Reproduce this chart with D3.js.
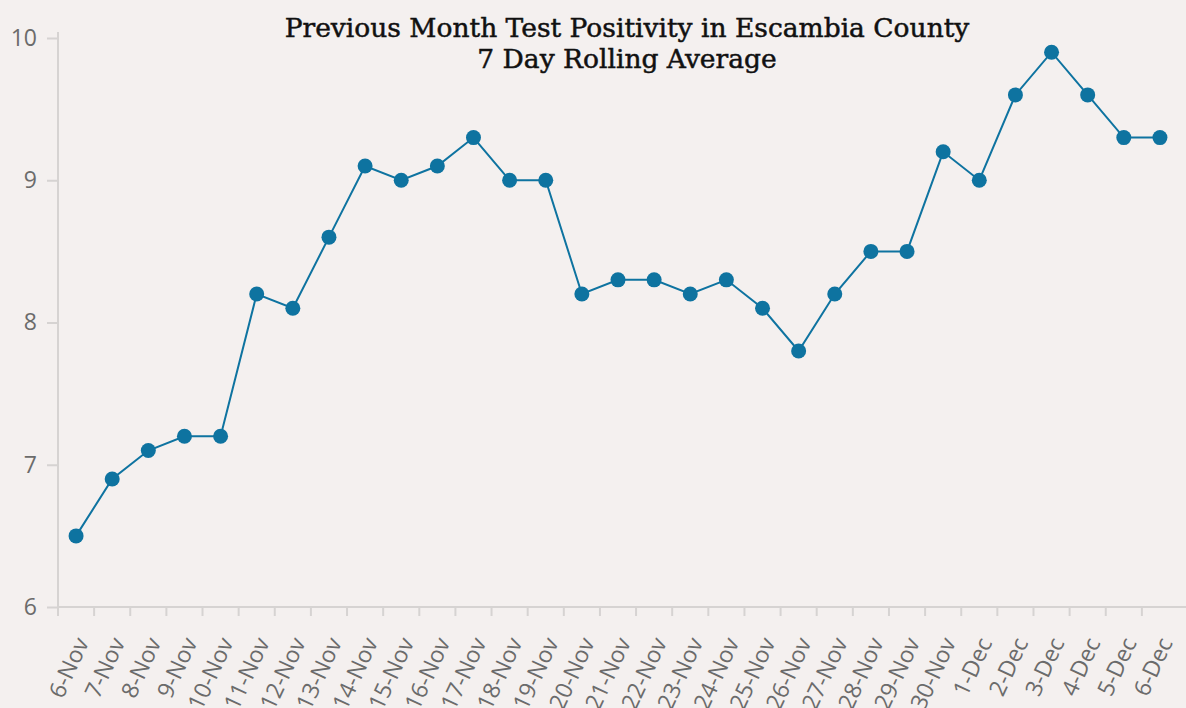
<!DOCTYPE html>
<html>
<head>
<meta charset="utf-8">
<script src="https://cdn.jsdelivr.net/npm/d3@7"></script>
<style>
  body { margin: 0; background: #f4f0ef; }
  svg { display: block; }
</style>
</head>
<body>
<svg id="canvas" width="1186" height="708"></svg>
<script>
const days = ['6-Nov','7-Nov','8-Nov','9-Nov','10-Nov','11-Nov','12-Nov','13-Nov','14-Nov','15-Nov',
  '16-Nov','17-Nov','18-Nov','19-Nov','20-Nov','21-Nov','22-Nov','23-Nov','24-Nov','25-Nov',
  '26-Nov','27-Nov','28-Nov','29-Nov','30-Nov','1-Dec','2-Dec','3-Dec','4-Dec','5-Dec','6-Dec']
const positivity = [6.5, 6.9, 7.1, 7.2, 7.2, 8.2, 8.1, 8.6, 9.1, 9.0,
  9.1, 9.3, 9.0, 9.0, 8.2, 8.3, 8.3, 8.2, 8.3, 8.1,
  7.8, 8.2, 8.5, 8.5, 9.2, 9.0, 9.6, 9.9, 9.6, 9.3, 9.3]
const yTicks = [6, 7, 8, 9, 10]
const titleLines = ['Previous Month Test Positivity in Escambia County', '7 Day Rolling Average']

let canvas = d3.select('#canvas')

const plotLeft = 58
const plotRight = 1178
const plotTop = 38
const plotBottom = 607

let xScale = d3.scaleBand().domain(days).range([plotLeft, plotRight])
let yScale = d3.scaleLinear().domain([6, 10]).range([plotBottom, plotTop])

// y axis
let yAxis = canvas.append('g')
    .attr('transform', 'translate(' + plotLeft + ',0)')
    .call(d3.axisLeft(yScale).tickValues(yTicks).tickFormat(d3.format('d')).tickSize(11).tickPadding(10))
yAxis.select('.domain').attr('stroke', '#d6d3d2').attr('stroke-width', 2).attr('d', 'M0,' + (plotTop - 6) + 'V' + plotBottom)
yAxis.selectAll('.tick line').attr('stroke', '#d6d3d2').attr('stroke-width', 2)
yAxis.selectAll('.tick text')
    .attr('fill', '#6b6b6b')
    .style('font-family', '"Open Sans", sans-serif')
    .style('font-size', '23px')

// x axis, ticks on band edges
let xAxis = canvas.append('g')
    .attr('transform', 'translate(0,' + plotBottom + ')')
xAxis.append('line')
    .attr('x1', plotLeft).attr('x2', 1186)
    .attr('stroke', '#d6d3d2').attr('stroke-width', 2)
xAxis.selectAll('.edge')
    .data(days)
    .enter()
    .append('line')
    .attr('class', 'edge')
    .attr('x1', d => xScale(d)).attr('x2', d => xScale(d))
    .attr('y1', 0).attr('y2', 9)
    .attr('stroke', '#d6d3d2').attr('stroke-width', 2)
xAxis.selectAll('text')
    .data(days)
    .enter()
    .append('text')
    .attr('transform', d => 'translate(' + (xScale(d) + xScale.bandwidth() / 2 + 6) + ',32) rotate(-65)')
    .attr('text-anchor', 'end')
    .attr('dy', '0.35em')
    .attr('fill', '#6b6b6b')
    .style('font-family', '"Open Sans", sans-serif')
    .style('font-size', '23px')
    .text(d => d)

// line and dots
let cx = d => xScale(d) + xScale.bandwidth() / 2
let line = d3.line()
    .x((v, i) => cx(days[i]))
    .y(v => yScale(v))

canvas.append('path')
    .datum(positivity)
    .attr('d', line)
    .attr('fill', 'none')
    .attr('stroke', '#0e73a0')
    .attr('stroke-width', 2)

canvas.selectAll('circle')
    .data(positivity)
    .enter()
    .append('circle')
    .attr('cx', (v, i) => cx(days[i]))
    .attr('cy', v => yScale(v))
    .attr('r', 7.5)
    .attr('fill', '#0e73a0')

// title
canvas.selectAll('.title')
    .data(titleLines)
    .enter()
    .append('text')
    .attr('class', 'title')
    .attr('x', 627)
    .attr('y', (d, i) => 37 + i * 31)
    .attr('text-anchor', 'middle')
    .attr('fill', '#111')
    .attr('stroke', '#111')
    .attr('stroke-width', 0.5)
    .style('font-family', '"DejaVu Serif", serif')
    .style('font-size', '26.5px')
    .text(d => d)
</script>
</body>
</html>
